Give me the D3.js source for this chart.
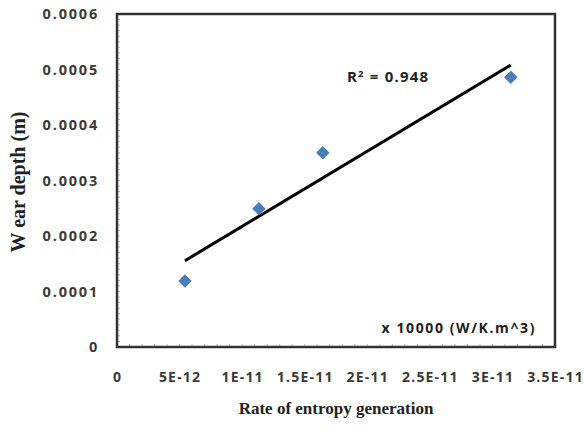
<!DOCTYPE html>
<html><head><meta charset="utf-8">
<script src="https://cdn.jsdelivr.net/npm/d3@7"></script>
<style>body{margin:0;background:#fff}svg{display:block}</style>
</head><body>
<svg id="c" width="585" height="428"></svg>
<script>
const xValues = [5.43e-12, 11.34e-12, 16.45e-12, 31.47e-12];
const yValues = [0.000119, 0.000249, 0.000350, 0.000486];
const xTicks = [0, 5e-12, 1e-11, 1.5e-11, 2e-11, 2.5e-11, 3e-11, 3.5e-11];
const xTickLabels = ["0","5E-12","1E-11","1.5E-11","2E-11","2.5E-11","3E-11","3.5E-11"];
const yTicks = [0, 0.0001, 0.0002, 0.0003, 0.0004, 0.0005, 0.0006];
const yTickLabels = ["0","0.0001","0.0002","0.0003","0.0004","0.0005","0.0006"];
const r2Label = "0.948";

const svg = d3.select("#c");
const L = 117, R = 555, T = 14, B = 347;
const x = d3.scaleLinear().domain([0, 3.5e-11]).range([L, R]);
const y = d3.scaleLinear().domain([0, 0.0006]).range([B, T]);

// minor ticks
const xMinor = d3.range(0, 36).map(i => i * 1e-12);
const yMinor = d3.range(0, 61).map(i => i * 0.00001);
svg.append("g").selectAll("line").data(xMinor).join("line")
  .attr("x1", d => x(d)).attr("x2", d => x(d)).attr("y1", B).attr("y2", B - 3)
  .attr("stroke", "#bbb").attr("stroke-width", 1);
svg.append("g").selectAll("line").data(yMinor).join("line")
  .attr("x1", L).attr("x2", L + 3).attr("y1", d => y(d)).attr("y2", d => y(d))
  .attr("stroke", "#bbb").attr("stroke-width", 1);

// frame
svg.append("rect").attr("x", L).attr("y", T).attr("width", R - L).attr("height", B - T)
  .attr("fill", "none").attr("stroke", "#333").attr("stroke-width", 2.5);

// axes labels
const tickFont = "'Open Sans', 'DejaVu Sans', sans-serif";
const yAxis = d3.axisLeft(y).tickValues(yTicks).tickSize(0).tickPadding(18)
  .tickFormat((d, i) => yTickLabels[i]);
const gy = svg.append("g").attr("transform", `translate(${L},0)`).call(yAxis);
gy.select(".domain").remove();
gy.selectAll("text").attr("font-family", tickFont).attr("font-weight", "bold")
  .attr("font-size", 14.5).attr("letter-spacing", 1.8).attr("fill", "#3a3a3a");

const xAxis = d3.axisBottom(x).tickValues(xTicks).tickSize(0).tickPadding(25)
  .tickFormat((d, i) => xTickLabels[i]);
const gx = svg.append("g").attr("transform", `translate(0,${B})`).call(xAxis);
gx.select(".domain").remove();
gx.selectAll("text").attr("font-family", tickFont).attr("font-weight", "bold")
  .attr("font-size", 14).attr("letter-spacing", 1.2).attr("fill", "#3a3a3a");

// trendline (least squares fit)
const mx = d3.mean(xValues), my = d3.mean(yValues);
const sxy = d3.sum(xValues, (d, i) => (d - mx) * (yValues[i] - my));
const sxx = d3.sum(xValues, d => (d - mx) ** 2);
const slope = sxy / sxx, icpt = my - slope * mx;
const x0 = d3.min(xValues), x1 = d3.max(xValues);
svg.append("line")
  .attr("x1", x(x0)).attr("y1", y(icpt + slope * x0))
  .attr("x2", x(x1)).attr("y2", y(icpt + slope * x1))
  .attr("stroke", "#000").attr("stroke-width", 3);

// markers
svg.append("g").selectAll("path").data(xValues).join("path")
  .attr("d", d3.symbol().type(d3.symbolDiamond2).size(115))
  .attr("transform", (d, i) => `translate(${x(d)},${y(yValues[i])})`)
  .attr("fill", "#4A7EBB");

// R^2 text
const rt = svg.append("text").attr("x", 347).attr("y", 82)
  .attr("font-family", tickFont).attr("font-weight", "bold")
  .attr("font-size", 15).attr("letter-spacing", 1.2).attr("fill", "#222");
rt.append("tspan").text("R");
rt.append("tspan").attr("dy", -5).attr("font-size", 9.5).text("2");
rt.append("tspan").attr("dy", 5).text(" = " + r2Label);

// units note
svg.append("text").attr("x", 536).attr("y", 333).attr("text-anchor", "end")
  .attr("font-family", tickFont).attr("font-weight", "bold")
  .attr("font-size", 14).attr("letter-spacing", 1.6).attr("fill", "#222").text("x 10000 (W/K.m^3)");

// axis titles
svg.append("text").attr("x", 336).attr("y", 414).attr("text-anchor", "middle")
  .attr("font-family", "'Liberation Serif', 'DejaVu Serif', serif").attr("font-weight", "bold")
  .attr("font-size", 17).attr("fill", "#222").text("Rate of entropy generation");
svg.append("text").attr("transform", "translate(25,182) rotate(-90)").attr("text-anchor", "middle")
  .attr("font-family", "'Liberation Serif', 'DejaVu Serif', serif").attr("font-weight", "bold")
  .attr("font-size", 20).attr("fill", "#222").text("W ear depth (m)");
</script>
</body></html>
